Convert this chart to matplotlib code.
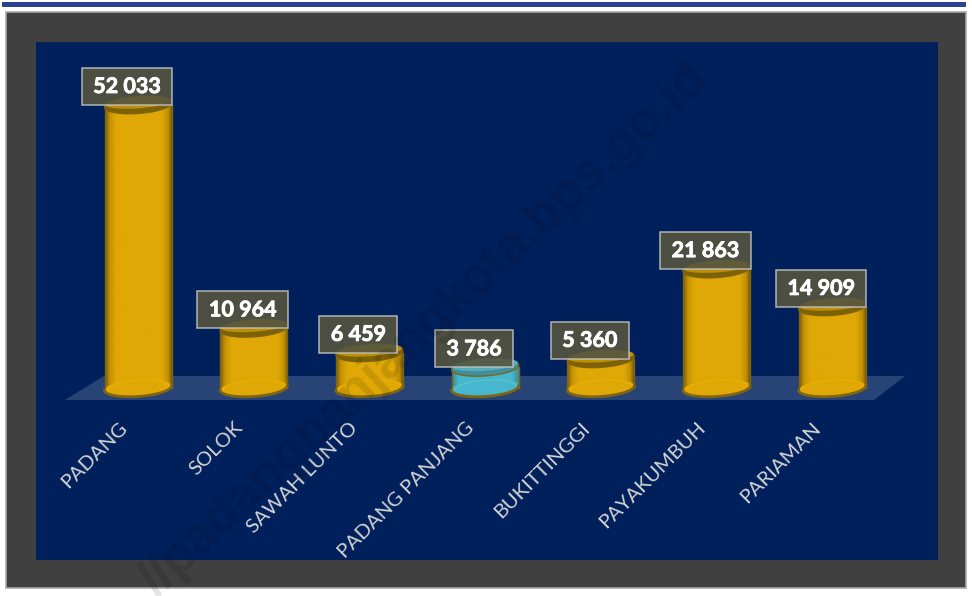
import numpy as np
import matplotlib
matplotlib.use("Agg")
import matplotlib.pyplot as plt
import matplotlib.patheffects as pe
from matplotlib.colors import LinearSegmentedColormap
from matplotlib.patches import Polygon, Rectangle
from matplotlib.path import Path

plt.rcParams['font.family'] = ['Lato', 'DejaVu Sans']

cities = ["PADANG", "SOLOK", "SAWAH LUNTO", "PADANG PANJANG", "BUKITTINGGI", "PAYAKUMBUH", "PARIAMAN"]
values = [52033, 10964, 6459, 3786, 5360, 21863, 14909]
labels = ["52 033", "10 964", "6 459", "3 786", "5 360", "21 863", "14 909"]
highlight = "PADANG PANJANG"

W, H = 972, 596
px_per_unit = 283 / 52033.0
spacing = 115.7
half_w = 33.5 / spacing
pt = 0.72  # points per pixel at dpi 100


def ellipse_pts(cx, cy, a, b, tilt, t0=0.0, t1=2 * np.pi):
    # cylinder cap outline, a in x units, b and tilt in value units
    t = np.linspace(t0, t1, 80)
    return np.column_stack([cx + a * np.cos(t), cy + b * np.sin(t) + tilt * np.cos(t)])


def ellipse(ax, cx, cy, a, b, tilt, **kw):
    p = Polygon(ellipse_pts(cx, cy, a, b, tilt), closed=True, **kw)
    ax.add_patch(p)
    return p


def label_box(x0, y0, w, h, mutation_size):
    # square box with different padding in x and y (pixels)
    padx, pady = 11.5, 8
    return Path([(x0 - padx, y0 - pady), (x0 + w + padx, y0 - pady), (x0 + w + padx, y0 + h + pady),
                 (x0 - padx, y0 + h + pady), (x0 - padx, y0 - pady)], closed=True)


fig = plt.figure(figsize=(W / 100, H / 100), dpi=100, facecolor="white")

# outer frame and top rule
bg = fig.add_axes([0, 0, 1, 1])
bg.set_xlim(0, W)
bg.set_ylim(H, 0)
bg.axis("off")
bg.add_patch(Rectangle((2, 2), 964, 5, fc="#2a4190", ec="none"))
bg.add_patch(Rectangle((6, 12), 960, 576, fc="#404040", ec="#a8a8a8", lw=1.2))

# plot area 36..938 x 42..560 px
ax = fig.add_axes([36 / W, 1 - 560 / H, 902 / W, 518 / H], facecolor="#00205c")
for s in ax.spines.values():
    s.set_visible(False)
ax.set_yticks([])

# floor
y_top = 12 / px_per_unit
y_bot = -12 / px_per_unit
floor = [((104 - 138) / spacing, y_top), ((905 - 138) / spacing, y_top),
         ((874 - 138) / spacing, y_bot), ((65 - 138) / spacing, y_bot)]
ax.add_patch(Polygon(floor, closed=True, fc="white", alpha=0.16, ec="none", zorder=1))

x = np.arange(len(cities))
gold = LinearSegmentedColormap.from_list(
    "gold", [(0, "#7d6008"), (0.07, "#c59405"), (0.16, "#dfa806"), (0.86, "#dfa806"), (0.95, "#bf9005"), (1, "#7d6008")])
teal = LinearSegmentedColormap.from_list(
    "teal", [(0, "#3a8fa0"), (0.1, "#47b6cf"), (0.9, "#47b6cf"), (1, "#3a8fa0")])
grad = np.linspace(0, 1, 64).reshape(1, -1)

b = 8.5 / px_per_unit
tilt = 2.2 / px_per_unit
for xi, v, city, lab in zip(x, values, cities, labels):
    hl = city == highlight
    cmap = teal if hl else gold
    edge = "#7f6412"
    # body with a gradient, bottom cap over it
    bar = ax.bar(xi, v, width=2 * half_w, color="none", ec="none", zorder=3)[0]
    im = ax.imshow(grad, cmap=cmap, extent=(xi - half_w, xi + half_w, 0, v), aspect="auto", zorder=3)
    im.set_clip_path(bar)
    ellipse(ax, xi, 0, half_w, b, tilt, fc=cmap(0.5), ec="none", zorder=3.2)
    rim = ellipse_pts(xi, 0, half_w, b, tilt, np.pi, 2 * np.pi)
    ax.plot(rim[:, 0], rim[:, 1], color=edge, lw=2, zorder=3.3)
    arc = ellipse_pts(xi, 0, half_w * 0.92, b * 0.9, tilt, 0.1, np.pi - 0.1)
    ax.plot(arc[:, 0], arc[:, 1], color="#5fd0c0" if hl else "#f0b400", lw=1, alpha=0.6, zorder=3.3)
    ax.plot([xi - half_w, xi - half_w], [0, v], color=edge, lw=1, zorder=3.4)
    ax.plot([xi + half_w, xi + half_w], [0, v], color=edge, lw=1, zorder=3.4)
    # top cap, dark crescent on the front
    ellipse(ax, xi, v, half_w, b, tilt, fc="#3f8f9f" if hl else "#7d6106", ec=edge, lw=1, zorder=3.5)
    ellipse(ax, xi, v + 0.3 * b, half_w * 0.98, b * 0.7, tilt,
            fc="#52aebd" if hl else "#bd8f04", ec="none", zorder=3.6)
    # value label box
    t = ax.annotate(lab, (xi, v), xytext=(-11 * pt, 18.5 * pt), textcoords="offset points",
                    ha="center", va="center", color="white", fontsize=15.5, fontweight="bold", zorder=5,
                    bbox=dict(boxstyle=label_box, fc="#55553f", alpha=0.9, ec="#c0c0c0", lw=1.1))
    t.set_path_effects([pe.withStroke(linewidth=0.6, foreground="white")])
    # category label
    ax.annotate(city, (xi, 0), xytext=(-20 * pt, -31 * pt), textcoords="offset points",
                ha="right", va="top", rotation=45, rotation_mode="anchor",
                color="#d4d4d4", fontsize=14.5, zorder=5)

ax.set_xticks([])
ax.set_xlim((36 - 138) / spacing, (938 - 138) / spacing)
ax.set_ylim(-(560 - 388) / px_per_unit, (388 - 42) / px_per_unit)

# watermark
fig.text(702 / W, 1 - 72 / H, "//padangpanjangkota.bps.go.id", rotation=43, ha="right", va="center",
         rotation_mode="anchor", family="Liberation Sans", fontsize=37, fontweight="bold",
         color="black", alpha=0.11, zorder=10)

fig.savefig("out.png", dpi=100)
